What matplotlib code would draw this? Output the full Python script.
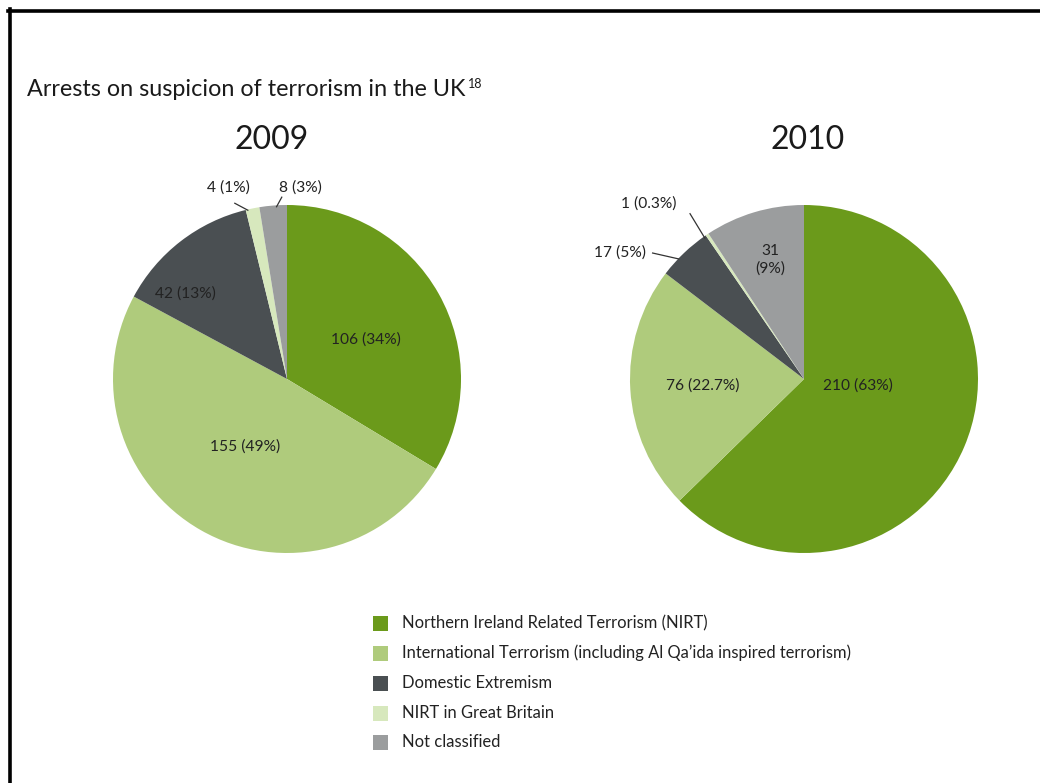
import matplotlib
matplotlib.use("Agg")
import matplotlib.pyplot as plt
import numpy as np

plt.rcParams['font.family'] = ['Lato', 'DejaVu Sans']

categories = ["Northern Ireland Related Terrorism (NIRT)",
              "International Terrorism (including Al Qa\u2019ida inspired terrorism)",
              "Domestic Extremism",
              "NIRT in Great Britain",
              "Not classified"]
colors = ["#6b9a1b", "#afcb7c", "#4a4f52", "#d7e8bd", "#9b9d9e"]

years = ["2009", "2010"]
values_2009 = [106, 155, 42, 4, 8]
values_2010 = [210, 76, 17, 1, 31]
labels_2009 = ["106 (34%)", "155 (49%)", "42 (13%)", "4 (1%)", "8 (3%)"]
labels_2010 = ["210 (63%)", "76 (22.7%)", "17 (5%)", "1 (0.3%)", "31\n(9%)"]

W, H = 1040, 783
fig = plt.figure(figsize=(W / 100, H / 100), dpi=100)

def px_axes(cx, cy, r):
    return fig.add_axes([(cx - r) / W, (H - cy - r) / H, 2 * r / W, 2 * r / H])

R = 174.0

# frame lines (left and top)
fig.add_artist(plt.Line2D([9.5 / W, 9.5 / W], [0, 1 - 9 / H], color="black", lw=2.6,
                          transform=fig.transFigure))
fig.add_artist(plt.Line2D([8 / W, 1], [1 - 10.5 / H, 1 - 10.5 / H], color="black", lw=2.6,
                          transform=fig.transFigure))

# title
title = fig.text(27 / W, 1 - 90 / H, "Arrests on suspicion of terrorism in the UK",
                 fontsize=16.8, ha="left", va="center", color="#1a1a1a")
renderer = fig.canvas.get_renderer()
bb = title.get_window_extent(renderer=renderer)
fig.text((bb.x1 + 2) / W, 1 - 84 / H, "18", fontsize=9, ha="left", va="center",
         color="#1a1a1a")

# inside label offsets (in radius units) and outside label info
inside_2009 = {0: (0.454, 0.224), 1: (-0.241, -0.391), 2: (-0.586, 0.489)}
outside_2009 = {3: ((-0.339, 1.103), (-0.30, 1.01), (-0.225, 0.97)),
                4: ((0.08, 1.103), (-0.03, 1.045), (-0.06, 0.99))}
inside_2010 = {0: (0.31, -0.04), 1: (-0.58, -0.04), 4: (-0.195, 0.684)}
outside_2010 = {2: ((-1.06, 0.724), (-0.87, 0.724), (-0.72, 0.69)),
                3: ((-0.89, 1.007), (-0.655, 0.95), (-0.57, 0.81))}

specs = [
    (287, 379, values_2009, labels_2009, inside_2009, outside_2009, 272),
    (804, 379, values_2010, labels_2010, inside_2010, outside_2010, 808),
]

for (cx, cy, vals, labs, inside, outside, ytx), yr in zip(specs, years):
    ax = px_axes(cx, cy, R)
    ax.pie(vals, colors=colors, startangle=90, counterclock=False,
           wedgeprops=dict(linewidth=0))
    ax.set_xlim(-1, 1)
    ax.set_ylim(-1, 1)
    ax.set_aspect("auto")
    ax.axis("off")
    for i, (dx, dy) in inside.items():
        ax.text(dx, dy, labs[i], ha="center", va="center", fontsize=11.2,
                color="#222222", linespacing=1.3)
    for i, (tpos, lstart, lend) in outside.items():
        ax.text(tpos[0], tpos[1], labs[i], ha="center", va="center", fontsize=11.2,
                color="#222222", clip_on=False)
        ax.plot([lstart[0], lend[0]], [lstart[1], lend[1]], color="#333333", lw=0.9,
                clip_on=False)
    fig.text(ytx / W, 1 - 140 / H, yr, fontsize=23, ha="center", va="center",
             color="#1a1a1a")

# legend
rows_y = [623, 653, 683, 713, 742]
for c, name, y in zip(colors, categories, rows_y):
    fig.patches.append(plt.Rectangle((373 / W, 1 - (y + 7.5) / H), 15 / W, 15 / H,
                                     facecolor=c, edgecolor="none",
                                     transform=fig.transFigure))
    fig.text(402 / W, 1 - y / H, name, fontsize=11.9, ha="left", va="center",
             color="#222222")

fig.savefig("out.png", dpi=100, facecolor="white")
